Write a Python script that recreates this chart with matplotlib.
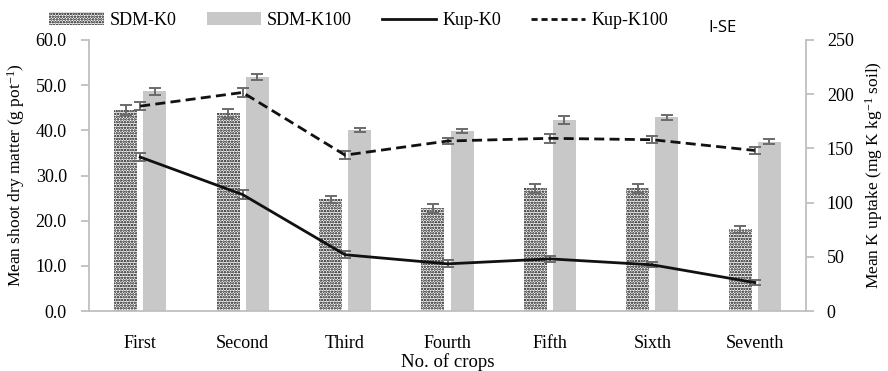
import matplotlib
matplotlib.use("Agg")
import matplotlib.pyplot as plt
import numpy as np
from matplotlib.patches import Patch
from matplotlib.lines import Line2D

plt.rcParams['font.family'] = ['Liberation Serif', 'DejaVu Serif']
plt.rcParams['mathtext.fontset'] = 'custom'
plt.rcParams['mathtext.rm'] = 'Liberation Serif'
plt.rcParams['mathtext.default'] = 'regular'
plt.rcParams['hatch.linewidth'] = 1.2

crops = ["First", "Second", "Third", "Fourth", "Fifth", "Sixth", "Seventh"]

# Shoot dry matter (g pot-1) with standard errors
sdm_k0 = [44.5, 43.8, 24.7, 22.7, 27.2, 27.2, 18.1]
sdm_k0_se = [1.0, 1.0, 0.85, 0.9, 1.0, 1.0, 0.8]
sdm_k100 = [48.6, 51.9, 40.1, 39.9, 42.3, 42.9, 37.5]
sdm_k100_se = [0.7, 0.65, 0.45, 0.45, 0.9, 0.55, 0.5]

# K uptake (mg K kg-1 soil) with standard errors
kup_k0 = [142, 107.4, 51.9, 43.5, 48.1, 42.6, 26.2]
kup_k0_se = [4.0, 4.0, 3.0, 3.2, 3.0, 2.3, 2.0]
kup_k100 = [189, 201.6, 143.8, 156.8, 159.3, 158, 148.1]
kup_k100_se = [3.7, 4.3, 3.9, 2.8, 4.0, 3.4, 3.4]

axis_gray = "#BFBFBF"
err_gray = "#6B6B6B"
bar_gray = "#C8C8C8"

fig = plt.figure(figsize=(8.88, 3.71), dpi=100)
ax = fig.add_axes([0.1002, 0.1617, 0.8075, 0.7305])
ax2 = ax.twinx()

x = np.arange(len(crops))
w = 0.225
off = 0.142

ax.bar(x - off, sdm_k0, width=w, color="white", edgecolor="black",
       linewidth=0, hatch="......", zorder=2)
ax.bar(x + off, sdm_k100, width=w, color=bar_gray, linewidth=0, zorder=2)
ekw = dict(fmt="none", ecolor=err_gray, elinewidth=1.4, capsize=4,
           capthick=1.4, zorder=3)
ax.errorbar(x - off, sdm_k0, yerr=sdm_k0_se, **ekw)
ax.errorbar(x + off, sdm_k100, yerr=sdm_k100_se, **ekw)

ax2.plot(x, kup_k0, color="#111111", lw=2.0, zorder=4)
ax2.plot(x, kup_k100, color="#111111", lw=2.0, linestyle=(0, (3.6, 1.9)),
         zorder=4)
ax2.errorbar(x, kup_k0, yerr=kup_k0_se, **ekw)
ax2.errorbar(x, kup_k100, yerr=kup_k100_se, **ekw)

ax.set_xlim(-0.5, len(crops) - 0.5)
ax.set_ylim(0, 60)
ax2.set_ylim(0, 250)
ax.set_yticks(np.arange(0, 61, 10))
ax.set_yticklabels([f"{v:.1f}" for v in np.arange(0, 61, 10)])
ax2.set_yticks(np.arange(0, 251, 50))
ax.set_xticks(x)
ax.set_xticklabels(crops)

for a in (ax, ax2):
    a.spines["top"].set_visible(False)
    for s in ("left", "right", "bottom"):
        a.spines[s].set_color(axis_gray)
        a.spines[s].set_linewidth(1.3)
ax.spines["right"].set_visible(False)
ax2.spines["left"].set_visible(False)
ax2.spines["bottom"].set_visible(False)

ax.tick_params(axis="y", direction="out", length=6, width=1.3,
               color=axis_gray, labelsize=13, pad=10)
ax2.tick_params(axis="y", direction="out", length=6, width=1.3,
                color=axis_gray, labelsize=13, pad=9)
ax.tick_params(axis="x", length=0, labelsize=13, pad=17)

ax.set_xlabel("No. of crops", fontsize=13.5, labelpad=1)
ax.set_ylabel("Mean shoot dry matter (g pot$^{-1}$)", fontsize=12.5,
              labelpad=6)
ax2.set_ylabel("Mean K uptake (mg K kg$^{-1}$ soil)", fontsize=12.5,
               labelpad=7)

handles = [
    Patch(facecolor="white", edgecolor="black", linewidth=0, hatch="......"),
    Patch(facecolor=bar_gray, linewidth=0),
    Line2D([], [], color="#111111", lw=2.0),
    Line2D([], [], color="#111111", lw=2.0, linestyle=(0, (2.2, 1.4))),
]
labels = ["SDM-K0", "SDM-K100", "Kup-K0", "Kup-K100"]
fig.legend(handles, labels, loc="center", bbox_to_anchor=(0.404, 0.945),
           ncol=4, frameon=False, fontsize=13, handlelength=3.0,
           handletextpad=0.35, columnspacing=1.65, borderpad=0)

fig.text(722 / 888, 1 - 28 / 371, "I-SE", ha="center", va="center",
         fontsize=12, family=["Open Sans", "DejaVu Sans"])

fig.savefig("out.png", dpi=100)
